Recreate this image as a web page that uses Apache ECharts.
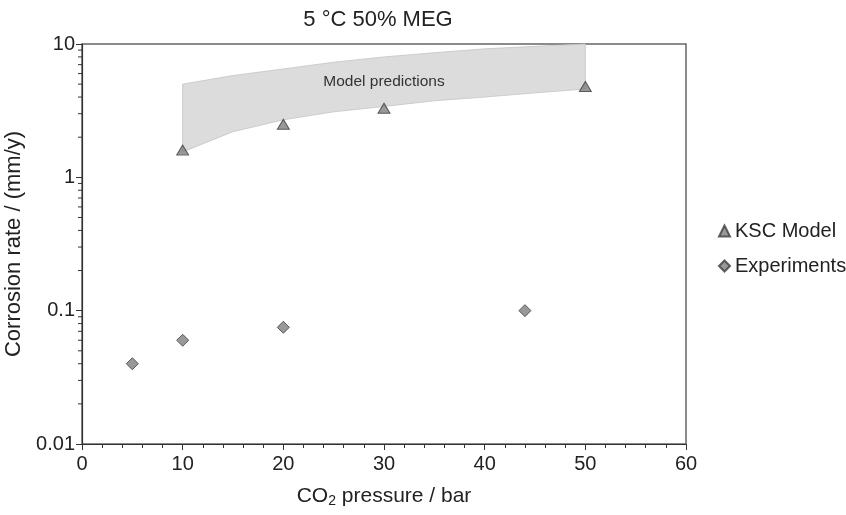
<!DOCTYPE html>
<html>
<head>
<meta charset="utf-8">
<script src="https://cdn.jsdelivr.net/npm/echarts@6/dist/echarts.min.js"></script>
<style>html,body{margin:0;padding:0;background:#fff}#c{width:846px;height:515px}</style>
</head>
<body>
<div id="c"></div>
<script>
// Data
const titleText = '5 \u00B0C 50% MEG';
const kscX = [10, 20, 30, 50];
const kscY = [1.6, 2.5, 3.3, 4.8];
const expX = [5, 10, 20, 44];
const expY = [0.04, 0.06, 0.075, 0.1];
const bandX = [10, 15, 20, 25, 30, 35, 40, 45, 50];
const bandLow = [1.55, 2.2, 2.7, 3.1, 3.4, 3.75, 4.0, 4.3, 4.6];
const bandHigh = [5.0, 5.8, 6.5, 7.3, 8.0, 8.6, 9.2, 9.6, 10];
const bandLabel = 'Model predictions';
const bandLabelPos = [30, 5.2];
const yMinorTicks = [0.02,0.03,0.04,0.05,0.06,0.07,0.08,0.09,0.2,0.3,0.4,0.5,0.6,0.7,0.8,0.9,2,3,4,5,6,7,8,9];
const yTickLabels = {0.01: '0.01', 0.1: '0.1', 1: '1', 10: '10'};

const font = 'Liberation Sans, Arial, sans-serif';
const chart = echarts.init(document.getElementById('c'), null, {renderer: 'canvas'});

const option = {
  animation: false,
  backgroundColor: '#fff',
  title: {
    text: titleText, left: 373, top: 4, textAlign: 'center',
    textStyle: {fontFamily: font, fontSize: 22, fontWeight: 'normal', color: '#222'}
  },
  grid: {left: 82, right: 160, top: 44, bottom: 71, outerBoundsMode: 'none', containLabel: false,
    show: true, borderColor: '#666', borderWidth: 1.5, backgroundColor: 'transparent'},
  legend: {
    data: ['KSC Model', 'Experiments'],
    orient: 'vertical', left: 718, top: 221, padding: 0, itemGap: 15, itemWidth: 11, itemHeight: 11,
    textStyle: {fontFamily: font, fontSize: 20, color: '#222'}
  },
  xAxis: {
    type: 'value', min: 0, max: 60, interval: 10,
    axisLine: {show: true, lineStyle: {color: '#333', width: 1.2}},
    axisTick: {show: true, length: 6, lineStyle: {color: '#333'}},
    minorTick: {show: true, splitNumber: 5, length: 4, lineStyle: {color: '#333'}},
    splitLine: {show: false},
    axisLabel: {fontFamily: font, fontSize: 20, color: '#222', margin: 10},
    name: 'CO{sub|2} pressure / bar', nameLocation: 'middle', nameGap: 40,
    nameTextStyle: {fontFamily: font, fontSize: 21, color: '#222',
      rich: {sub: {fontFamily: font, fontSize: 14, color: '#222', verticalAlign: 'bottom', padding: [10, 0, 0, 0]}}}
  },
  yAxis: {
    type: 'log', logBase: 10, min: 0.01, max: 10,
    axisLine: {show: true, lineStyle: {color: '#333', width: 1.2}},
    axisTick: {show: true, length: 6, lineStyle: {color: '#333'}},
    splitLine: {show: false},
    axisLabel: {fontFamily: font, fontSize: 20, color: '#222', margin: 7,
      formatter: v => yTickLabels[v] !== undefined ? yTickLabels[v] : String(v)},
    name: 'Corrosion rate / (mm/y)', nameLocation: 'middle', nameGap: 48,
    nameTextStyle: {fontFamily: font, fontSize: 22, color: '#222'}
  },
  series: [
    {
      name: 'band', type: 'custom', silent: true, z: 1,
      data: [0],
      renderItem: function (params, api) {
        const pts = [];
        for (let i = 0; i < bandX.length; i++) pts.push(api.coord([bandX[i], bandHigh[i]]));
        for (let i = bandX.length - 1; i >= 0; i--) pts.push(api.coord([bandX[i], bandLow[i]]));
        const lp = api.coord(bandLabelPos);
        return {
          type: 'group',
          children: [
            {type: 'polygon', shape: {points: pts}, style: {fill: '#dcdcdc', stroke: '#c4c4c4', lineWidth: 0.8}},
            {type: 'text', x: lp[0], y: lp[1], style: {text: bandLabel, fontFamily: font, fontSize: 15.5, fill: '#333', align: 'center', verticalAlign: 'middle'}}
          ]
        };
      }
    },
    {
      name: 'minorY', type: 'custom', silent: true, clip: false, z: 3,
      data: yMinorTicks.map(v => [0, v]),
      encode: {x: 0, y: 1},
      renderItem: function (params, api) {
        const p = api.coord([0, api.value(1)]);
        return {type: 'line', shape: {x1: p[0] - 4, y1: p[1], x2: p[0], y2: p[1]}, style: {stroke: '#333', lineWidth: 1}};
      }
    },
    {
      name: 'KSC Model', type: 'scatter', z: 5,
      symbol: 'triangle', symbolSize: [12, 10],
      itemStyle: {color: '#7f7f7f', borderColor: '#3c3c3c', borderWidth: 1},
      data: kscX.map((x, i) => [x, kscY[i]])
    },
    {
      name: 'Experiments', type: 'scatter', z: 5,
      symbol: 'diamond', symbolSize: [12, 12],
      itemStyle: {color: '#7f7f7f', borderColor: '#3c3c3c', borderWidth: 1},
      data: expX.map((x, i) => [x, expY[i]])
    }
  ]
};
chart.setOption(option);
</script>
</body>
</html>
